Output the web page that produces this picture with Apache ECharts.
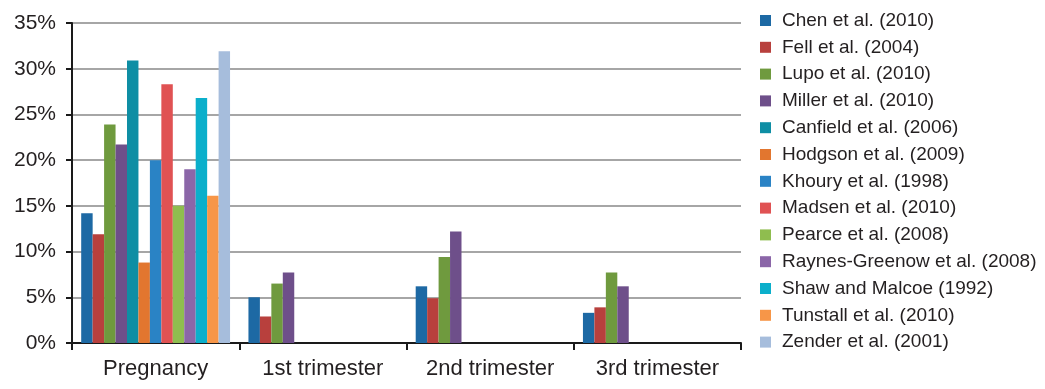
<!DOCTYPE html>
<html>
<head>
<meta charset="utf-8">
<script src="https://cdn.jsdelivr.net/npm/echarts@6/dist/echarts.min.js"></script>
<style>
html,body{margin:0;padding:0;background:#fff;}
#c{width:1045px;height:389px;}
</style>
</head>
<body>
<div id="c"></div>
<script>
var categories = ['Pregnancy', '1st trimester', '2nd trimester', '3rd trimester'];
var yTicks = [0, 5, 10, 15, 20, 25, 30, 35];

var seriesNames = [
  'Chen et al. (2010)', 'Fell et al. (2004)', 'Lupo et al. (2010)', 'Miller et al. (2010)',
  'Canfield et al. (2006)', 'Hodgson et al. (2009)', 'Khoury et al. (1998)', 'Madsen et al. (2010)',
  'Pearce et al. (2008)', 'Raynes-Greenow et al. (2008)', 'Shaw and Malcoe (1992)',
  'Tunstall et al. (2010)', 'Zender et al. (2001)'
];

var chen     = [14.2, 5.0, 6.2, 3.3];
var fell     = [11.9, 2.9, 4.9, 3.9];
var lupo     = [23.9, 6.5, 9.4, 7.7];
var miller   = [21.7, 7.7, 12.2, 6.2];
var canfield = [30.9, null, null, null];
var hodgson  = [8.8, null, null, null];
var khoury   = [20.0, null, null, null];
var madsen   = [28.3, null, null, null];
var pearce   = [15.0, null, null, null];
var raynes   = [19.0, null, null, null];
var shaw     = [26.8, null, null, null];
var tunstall = [16.1, null, null, null];
var zender   = [31.9, null, null, null];

var seriesValues = [chen, fell, lupo, miller, canfield, hodgson, khoury, madsen, pearce, raynes, shaw, tunstall, zender];

var colors = ['#1d69a4', '#b8403d', '#6f9a3e', '#6e4f8a', '#0e8ea4', '#e2762f', '#2a83c5',
              '#e05253', '#8fbd4f', '#8b66a8', '#0bafcb', '#f79648', '#a6bddc'];

var FONT = 'Liberation Sans, Arial, Helvetica, sans-serif';

var series = seriesNames.map(function (name, i) {
  return {
    name: name,
    type: 'bar',
    data: seriesValues[i],
    barGap: '0%',
    barCategoryGap: '11%',
    itemStyle: { color: colors[i] },
    emphasis: { disabled: true }
  };
});

var chart = echarts.init(document.getElementById('c'), null, { renderer: 'canvas' });
chart.setOption({
  animation: false,
  color: colors,
  grid: { left: 72, right: 304, top: 23, bottom: 46, containLabel: false },
  legend: {
    orient: 'vertical',
    left: 755,
    top: 6,
    itemWidth: 11,
    itemHeight: 11,
    itemGap: 7.8,
    icon: 'rect',
    textStyle: { fontFamily: FONT, fontSize: 19, color: '#231f20', lineHeight: 19, padding: [0, 0, 0, 6] },
    data: seriesNames
  },
  xAxis: {
    type: 'category',
    data: categories,
    axisLine: { lineStyle: { color: '#1a1a1a', width: 2 } },
    axisTick: { show: true, length: 7, lineStyle: { color: '#1a1a1a', width: 2 } },
    axisLabel: { fontFamily: FONT, fontSize: 22, color: '#231f20', margin: 15 },
    splitLine: { show: false }
  },
  yAxis: {
    type: 'value',
    min: yTicks[0],
    max: yTicks[yTicks.length - 1],
    interval: 5,
    axisLine: { show: true, lineStyle: { color: '#1a1a1a', width: 2 } },
    axisTick: { show: true, length: 6, lineStyle: { color: '#1a1a1a', width: 2 } },
    axisLabel: { fontFamily: FONT, fontSize: 21, color: '#231f20', margin: 16, formatter: '{value}%' },
    splitLine: { show: true, lineStyle: { color: '#a6a6a6', width: 2 } }
  },
  series: series
});
</script>
</body>
</html>
